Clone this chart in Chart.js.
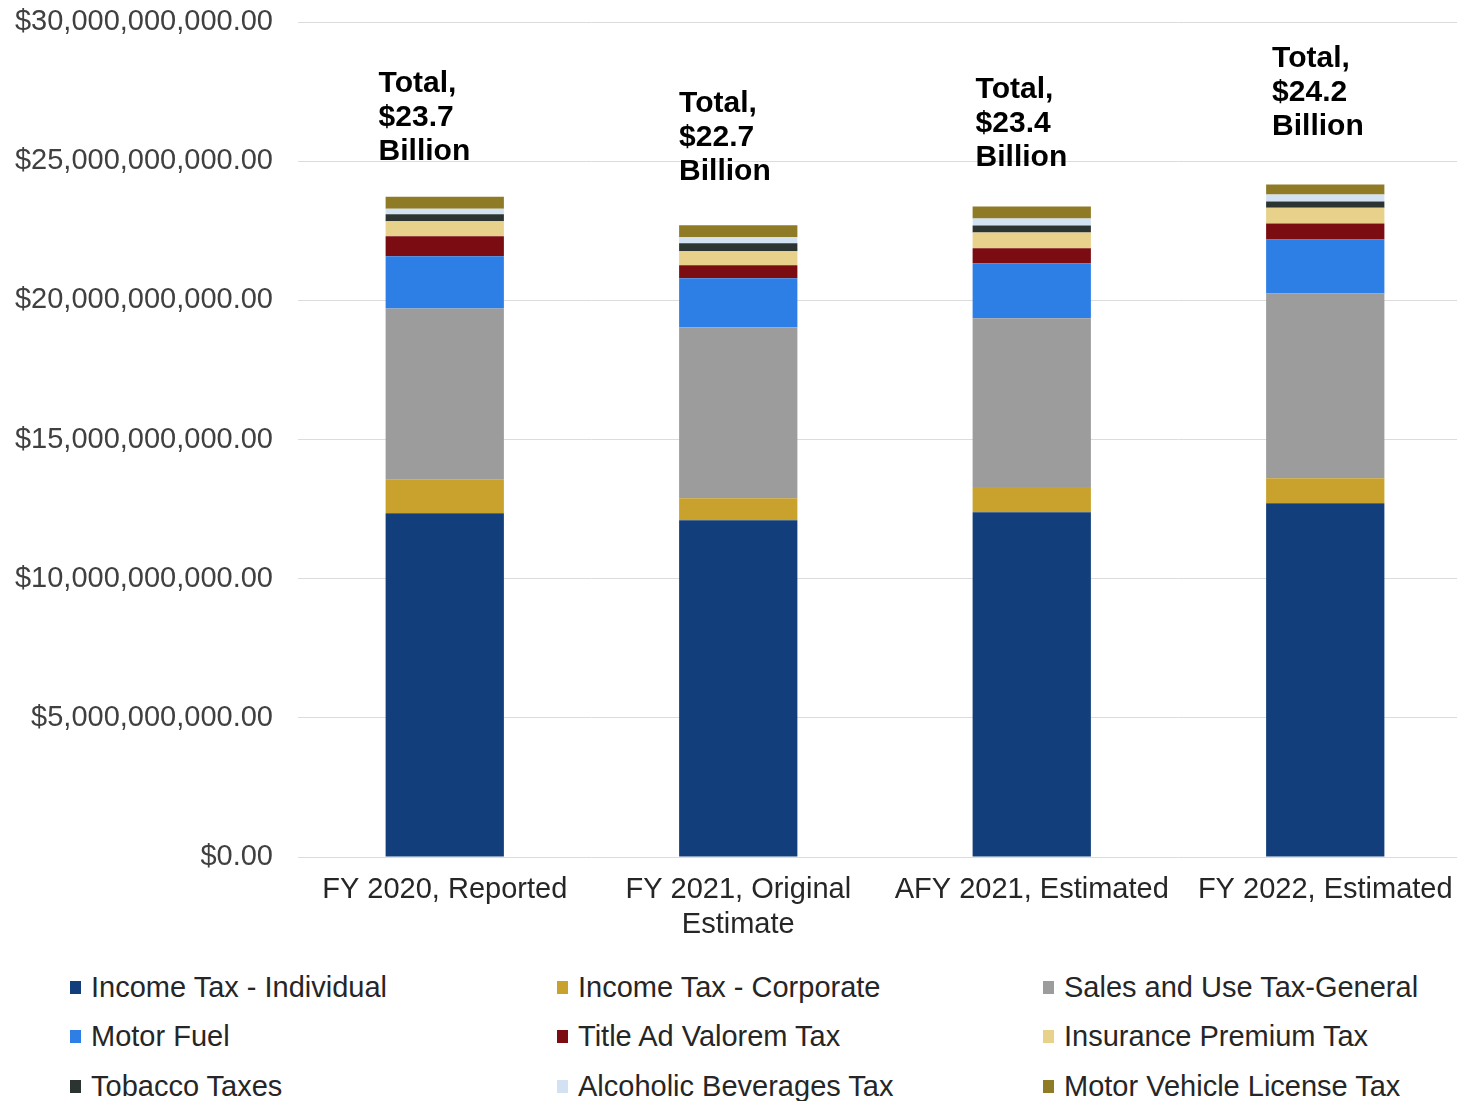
<!DOCTYPE html>
<html>
<head>
<meta charset="utf-8">
<script src="https://cdn.jsdelivr.net/npm/chart.js@4"></script>
<style>
  html, body { margin: 0; padding: 0; background: #fff; overflow: hidden; }
  body { width: 1457px; height: 1101px; position: relative; font-family: "Liberation Sans", Arial, sans-serif; }
  #wrap { position: absolute; left: 0; top: 0; width: 1472px; height: 940px; }
  #legend { position: absolute; left: 0; top: 962px; width: 1457px; }
  .item { position: absolute; font-size: 29px; color: #262626; white-space: nowrap; height: 50px; display: flex; align-items: center; }
  .item span.box { display: inline-block; width: 11px; height: 13px; margin-right: 10px; }
</style>
</head>
<body>
<div id="wrap"><canvas id="myChart"></canvas></div>
<div id="legend"></div>
<script>
  // categories + values in billions of dollars
  const categories = ['FY 2020, Reported', ['FY 2021, Original', 'Estimate'], 'AFY 2021, Estimated', 'FY 2022, Estimated'];

  const incomeIndividual = [12.35, 12.10, 12.39, 12.71];
  const incomeCorporate  = [1.22, 0.79, 0.90, 0.90];
  const salesUse         = [6.14, 6.14, 6.07, 6.64];
  const motorFuel        = [1.87, 1.76, 1.97, 1.94];
  const titleAdValorem   = [0.72, 0.47, 0.54, 0.57];
  const insurancePremium = [0.54, 0.50, 0.57, 0.57];
  const tobacco          = [0.25, 0.29, 0.25, 0.22];
  const alcoholic        = [0.20, 0.22, 0.25, 0.25];
  const motorVehicle     = [0.43, 0.43, 0.43, 0.36];

  const yTicks = [0, 5e9, 10e9, 15e9, 20e9, 25e9, 30e9];

  const seriesNames = ['Income Tax - Individual', 'Income Tax - Corporate', 'Sales and Use Tax-General',
    'Motor Fuel', 'Title Ad Valorem Tax', 'Insurance Premium Tax',
    'Tobacco Taxes', 'Alcoholic Beverages Tax', 'Motor Vehicle License Tax'];
  const seriesValues = [incomeIndividual, incomeCorporate, salesUse, motorFuel, titleAdValorem,
    insurancePremium, tobacco, alcoholic, motorVehicle];
  const colours = ['#123f7c', '#c8a22c', '#9c9c9c', '#2d7fe6', '#7a0c12',
    '#e8d18a', '#2b3430', '#d2e2f2', '#8f7b26'];

  const FONT = '"Liberation Sans", Arial, sans-serif';

  // manual nudges of the total labels, as in the original
  const labelLift = [34, 42, 38, 47];
  const labelShift = [-7, 0, 3, 6];

  const totalsPlugin = {
    id: 'totals',
    afterDatasetsDraw(chart) {
      const ctx = chart.ctx;
      const last = chart.getDatasetMeta(chart.data.datasets.length - 1);
      ctx.save();
      ctx.font = 'bold 30px ' + FONT;
      ctx.fillStyle = '#000';
      ctx.textAlign = 'left';
      ctx.textBaseline = 'middle';
      last.data.forEach((bar, i) => {
        let sum = 0;
        seriesValues.forEach(s => sum += s[i]);
        const lines = ['Total,', '$' + sum.toFixed(1), 'Billion'];
        const x = bar.x - bar.width / 2 + labelShift[i];
        const yBottom = bar.y - labelLift[i] - 11;
        lines.forEach((t, k) => {
          ctx.fillText(t, x, yBottom - (lines.length - 1 - k) * 34);
        });
      });
      ctx.restore();
    }
  };

  const datasets = seriesNames.map((name, i) => ({
    label: name,
    data: seriesValues[i].map(v => v * 1e9),
    backgroundColor: colours[i],
    borderWidth: 0,
    categoryPercentage: 1,
    barPercentage: 0.403
  }));

  const myChart = new Chart('myChart', {
    type: 'bar',
    data: { labels: categories, datasets: datasets },
    plugins: [totalsPlugin],
    options: {
      responsive: true,
      maintainAspectRatio: false,
      animation: false,
      layout: { padding: { left: 12, top: 22, right: 0, bottom: 0 } },
      plugins: { legend: { display: false }, tooltip: { enabled: false } },
      scales: {
        x: {
          stacked: true,
          grid: { display: false, drawTicks: false },
          border: { display: false },
          ticks: { font: { family: FONT, size: 29 }, color: '#262626', padding: 16, maxRotation: 0 },
          afterFit(scale) { scale.height = 83; }
        },
        y: {
          stacked: true,
          min: 0,
          max: 30e9,
          afterBuildTicks(scale) { scale.ticks = yTicks.map(v => ({ value: v })); },
          grid: { color: '#dcdcdc', lineWidth: 1, drawTicks: false },
          border: { display: false },
          ticks: {
            font: { family: FONT, size: 29 },
            color: '#404040',
            padding: 25,
            callback: v => '$' + Number(v).toLocaleString('en-US', { minimumFractionDigits: 2, maximumFractionDigits: 2 })
          },
          afterFit(scale) {
            scale.width = 286;
            scale.paddingTop = 0;
            scale.paddingBottom = 0;
          }
        }
      }
    }
  });

  // legend in three columns like the original
  const legend = document.getElementById('legend');
  const colX = [70, 557, 1043];
  seriesNames.forEach((name, i) => {
    const d = document.createElement('div');
    d.className = 'item';
    d.style.left = colX[i % 3] + 'px';
    d.style.top = (Math.floor(i / 3) * 49.5) + 'px';
    d.innerHTML = '<span class="box" style="background:' + colours[i] + '"></span>' + name;
    legend.appendChild(d);
  });
</script>
</body>
</html>
